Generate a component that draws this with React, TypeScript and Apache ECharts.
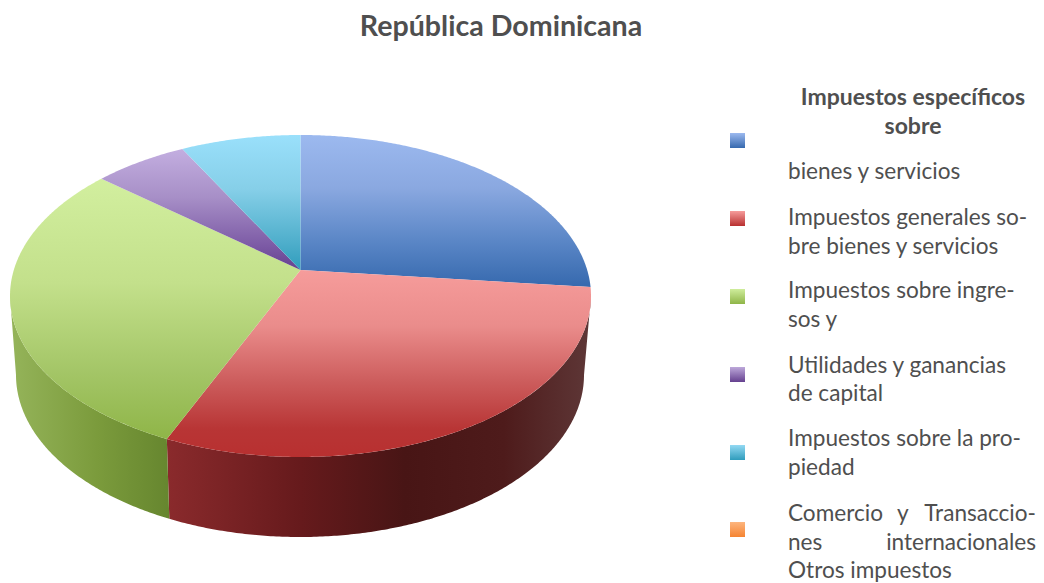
import React, { useEffect, useRef } from "react";
import * as echarts from "echarts";

// Share of tax revenue per category, in percent.
const categories = [
  "Impuestos específicos sobre bienes y servicios",
  "Impuestos generales sobre bienes y servicios",
  "Impuestos sobre ingresos y",
  "Utilidades y ganancias de capital",
  "Impuestos sobre la propiedad",
  "Comercio y Transacciones internacionales",
];
const shares = [26.7, 29.8, 29.6, 6.1, 7.8, 0];

const topStops = [
  [[0, "#9cb9ef"], [0.35, "#8aa8e0"], [0.7, "#5a86c6"], [1, "#3669ae"]],
  [[0, "#f69c9b"], [0.3, "#ea8c8b"], [0.6, "#cc5c5c"], [0.85, "#b83535"], [1, "#b83030"]],
  [[0, "#d2ef9f"], [0.4, "#c3e08b"], [0.75, "#a3c566"], [1, "#8fb548"]],
  [[0, "#c3aee0"], [0.4, "#a78fc7"], [0.8, "#7c5aa5"], [1, "#65408f"]],
  [[0, "#9ae0fb"], [0.4, "#86cfe8"], [0.8, "#4eaecb"], [1, "#2f9cbc"]],
  [[0, "#fdb57e"], [1, "#f58432"]],
];
const wallStops = [
  [[0, "#2d5488"], [1, "#4d6f9f"]],
  [[0.27, "#8a2a2c"], [0.5, "#661a1c"], [0.68, "#481515"], [0.85, "#4e1b1b"], [1, "#5e3737"]],
  [[0, "#95b45a"], [0.15, "#7b9b3c"], [0.28, "#65852e"]],
  [[0, "#5a3d7c"], [1, "#5a3d7c"]],
  [[0, "#2d7f96"], [1, "#2d7f96"]],
  [[0, "#c0682a"], [1, "#c0682a"]],
];

const legendSwatches = [
  ["#9cb9ef", "#3669ae"],
  ["#f69c9b", "#b83030"],
  ["#cfed9c", "#8fb548"],
  ["#bda8da", "#65408f"],
  ["#93d9f3", "#2f9cbc"],
  ["#fdb57e", "#f58432"],
];
const swatchTops = [133, 211, 289, 367, 445, 522];

const title = "República Dominicana";
const legendHeading = ["Impuestos específicos", "sobre"];
const legendLines = [
  "bienes y servicios",
  "Impuestos generales so-",
  "bre bienes y servicios",
  "Impuestos sobre ingre-",
  "sos y",
  "Utilidades y ganancias",
  "de capital",
  "Impuestos sobre la pro-",
  "piedad",
  "Comercio",
  "nes",
  "Otros impuestos",
];
const legendLineCentres = [170, 216, 245, 289, 318, 364, 392, 437, 466, 512, 541, 569];

const TEXT = "#4f4f4f";
const FONT = "Lato";

// Disc projection: the top face and the foot of the wall are ellipses, and
// perspective pushes the pie's centre towards the far edge.
const TOP = { cx: 300.5, cy: 296, rx: 290.5, ry: 161 };
const FOOT = { cx: 300, cy: 375, rx: 284, ry: 162 };
const TILT = 0.1615;
// The wall only faces the viewer between the two silhouette angles.
const WALL_FROM = Math.acos(-TILT);
const WALL_TO = Math.PI * 2 - WALL_FROM;

function rimPoint(e: typeof TOP, theta: number) {
  const denom = 1 + TILT * Math.cos(theta);
  const x = (Math.sin(theta) * Math.sqrt(1 - TILT * TILT)) / denom;
  const y = (Math.cos(theta) + TILT) / denom;
  return [e.cx + e.rx * x, e.cy - e.ry * y];
}

function sliceAngles(index: number) {
  const total = shares.reduce((a, b) => a + b, 0);
  const before = shares.slice(0, index).reduce((a, b) => a + b, 0);
  return [(before / total) * Math.PI * 2, ((before + shares[index]) / total) * Math.PI * 2];
}

function arc(e: typeof TOP, from: number, to: number) {
  const steps = Math.max(2, Math.ceil(((to - from) * 180) / Math.PI) * 2);
  const pts: number[][] = [];
  for (let i = 0; i <= steps; i++) pts.push(rimPoint(e, from + ((to - from) * i) / steps));
  return pts;
}

const seriesData = categories.map((name, i) => ({ name, value: shares[i] }));

export default function App() {
  const ref = useRef<HTMLDivElement>(null);
  useEffect(() => {
    const chart = echarts.init(ref.current!, undefined, { renderer: "svg" });

    const renderTop = (params: any, api: any) => {
      if (!api.value(0)) return null;
      const [a, b] = sliceAngles(params.dataIndex);
      const apex = [TOP.cx, TOP.cy - TOP.ry * TILT];
      return {
        type: "polygon",
        shape: { points: [apex, ...arc(TOP, a, b)] },
        style: {
          fill: {
            type: "linear", x: 0, y: 0, x2: 0, y2: 1,
            colorStops: topStops[params.dataIndex].map(([offset, color]) => ({ offset, color })),
          },
        },
      };
    };

    const renderWall = (params: any, api: any) => {
      if (!api.value(0)) return null;
      const [a0, b0] = sliceAngles(params.dataIndex);
      const a = Math.max(a0, WALL_FROM);
      const b = Math.min(b0, WALL_TO);
      if (a >= b) return null;
      return {
        type: "polygon",
        shape: { points: [...arc(TOP, a, b), ...arc(FOOT, a, b).reverse()] },
        style: {
          fill: {
            type: "linear", x: 10, y: 0, x2: 591, y2: 0, global: true,
            colorStops: wallStops[params.dataIndex].map(([offset, color]) => ({ offset, color })),
          },
        },
      };
    };

    const label = (text: string, x: number, y: number, extra: object = {}) => ({
      type: "text",
      x,
      y,
      style: {
        text,
        fill: TEXT,
        font: `22.6px ${FONT}`,
        textAlign: "left",
        textVerticalAlign: "middle",
        ...extra,
      },
    });

    const graphics: any[] = [];
    legendSwatches.forEach(([from, to], i) => {
      graphics.push({
        type: "rect",
        shape: { x: 730, y: swatchTops[i], width: 15, height: 15 },
        style: {
          fill: {
            type: "linear", x: 0, y: 0, x2: 0, y2: 1,
            colorStops: [{ offset: 0, color: from }, { offset: 1, color: to }],
          },
        },
      });
    });
    legendHeading.forEach((line, i) => {
      graphics.push(label(line, 913, 96 + i * 29, { font: `bold 23px ${FONT}`, textAlign: "center" }));
    });
    legendLines.forEach((line, i) => graphics.push(label(line, 788, legendLineCentres[i])));
    // The two justified lines of the last entry are spread to the column's right edge.
    graphics.push(label("y", 897, legendLineCentres[9]));
    graphics.push(label("Transaccio-", 1036, legendLineCentres[9], { textAlign: "right" }));
    graphics.push(label("internacionales", 1036, legendLineCentres[10], { textAlign: "right" }));
    graphics.push(
      label(title, 501, 25, { font: `bold 28.6px ${FONT}`, textAlign: "center" })
    );

    chart.setOption({
      animation: false,
      backgroundColor: "#ffffff",
      series: [
        { type: "custom", coordinateSystem: "none", z: 1, data: seriesData, renderItem: renderWall, silent: true },
        { type: "custom", coordinateSystem: "none", z: 2, data: seriesData, renderItem: renderTop, silent: true },
      ],
      graphic: graphics,
    });
    return () => chart.dispose();
  }, []);
  return <div ref={ref} style={{ position: "fixed", left: 0, top: 0, width: 1044, height: 583 }} />;
}
